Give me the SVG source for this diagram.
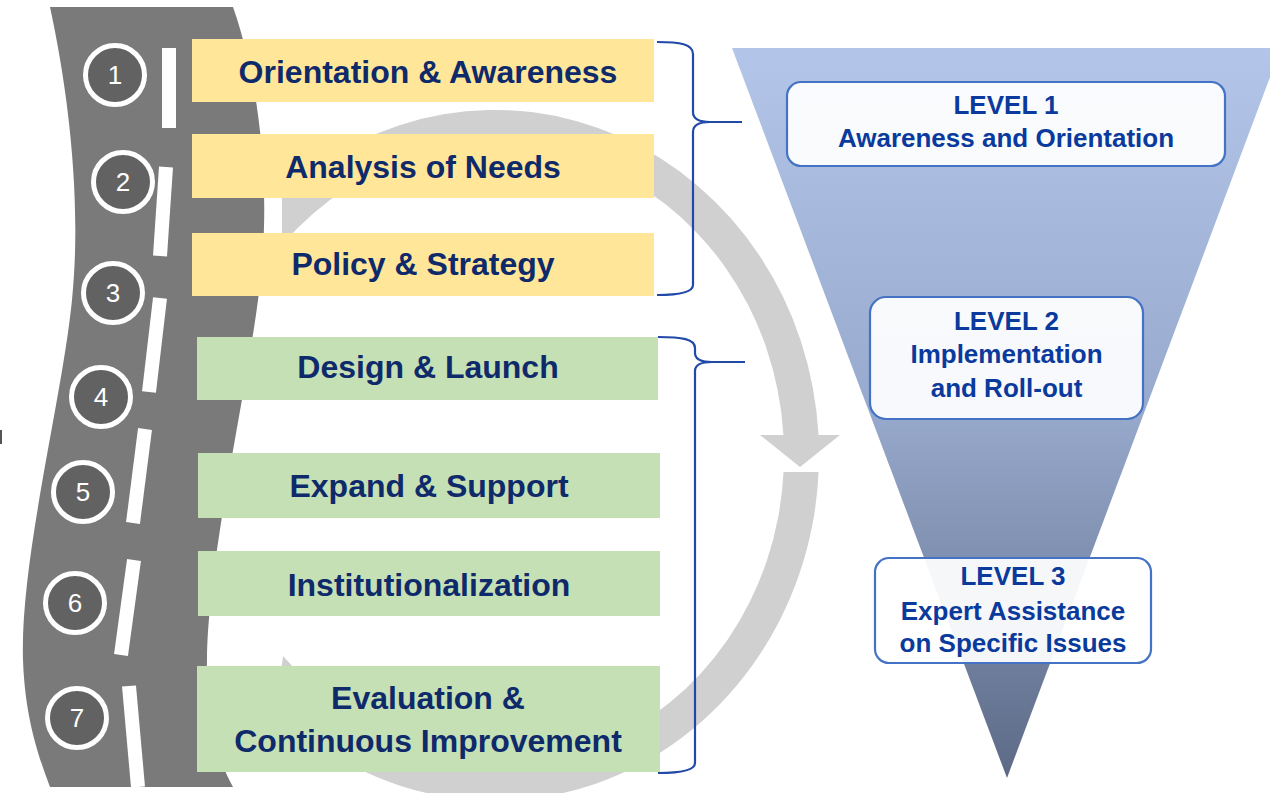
<svg xmlns="http://www.w3.org/2000/svg" width="1270" height="793" viewBox="0 0 1270 793">
<defs>
<linearGradient id="funnel" x1="0" y1="0" x2="0" y2="1">
<stop offset="0" stop-color="#B3C6EA"/>
<stop offset="0.5" stop-color="#97A9CC"/>
<stop offset="1" stop-color="#5C6A86"/>
</linearGradient>
<style>
.ring{fill:#D0D0D0}
.road{fill:#7A7A7A}
.dash{stroke:#FFFFFF;stroke-width:14;fill:none}
.num circle{fill:#626262;stroke:#FFFFFF;stroke-width:5}
.num text{fill:#FFFFFF;font-family:"Liberation Sans",Arial,sans-serif;font-size:26px;text-anchor:middle}
.yel{fill:#FFE699}
.grn{fill:#C5E0B4}
.step{fill:#0F2A6B;font-family:"Liberation Sans",Arial,sans-serif;font-weight:bold;font-size:32px;text-anchor:middle}
.brace{fill:none;stroke:#2049A8;stroke-width:2.2}
.lvl rect{fill:#FFFFFF;fill-opacity:0.93;stroke:#4472C4;stroke-width:2.2}
.lvl text{fill:#0A3A9C;font-family:"Liberation Sans",Arial,sans-serif;font-weight:bold;font-size:26px;text-anchor:middle}
</style>
</defs>

<g id="cycle-arrow">
<path class="ring" d="M 282,195 A 324 345 0 0 1 818.5,435 L 840,435 L 800,467 L 760,435 L 783.4,435 A 289 310 0 0 0 282,245 Z"/>
<path class="ring" d="M 818.6,472 A 324 345 0 0 1 241,670 L 286,670 A 289 310 0 0 0 783.5,472 Z"/>
<polygon class="ring" points="283,656 275,720 305,680"/>
</g>

<g id="road">
<path class="road" d="M 50,7 C 68,90 82,200 72,300 C 62,400 20,560 23,660 C 25,720 40,760 50,787 L 233,787 C 218,760 205,720 207,660 C 208,560 245,400 258,300 C 272,200 262,90 233,7 Z"/>
<line class="dash" x1="169" y1="48" x2="169" y2="128"/>
<line class="dash" x1="166" y1="167" x2="160" y2="256"/>
<line class="dash" x1="160" y1="298" x2="149" y2="392"/>
<line class="dash" x1="145" y1="429" x2="133" y2="523"/>
<line class="dash" x1="134" y1="560" x2="121" y2="655"/>
<line class="dash" x1="129" y1="686" x2="138" y2="787"/>
<rect x="0" y="430" width="2" height="14" fill="#555555"/>
</g>

<g id="n1" class="num"><circle cx="115" cy="75" r="29.5"/><text x="115" y="84">1</text></g>
<g id="n2" class="num"><circle cx="123" cy="182" r="29.5"/><text x="123" y="191">2</text></g>
<g id="n3" class="num"><circle cx="113" cy="293" r="29.5"/><text x="113" y="302">3</text></g>
<g id="n4" class="num"><circle cx="101" cy="397" r="29.5"/><text x="101" y="406">4</text></g>
<g id="n5" class="num"><circle cx="83" cy="492" r="29.5"/><text x="83" y="501">5</text></g>
<g id="n6" class="num"><circle cx="75" cy="603" r="29.5"/><text x="75" y="612">6</text></g>
<g id="n7" class="num"><circle cx="77" cy="718" r="29.5"/><text x="77" y="727">7</text></g>

<g id="step1"><rect class="yel" x="192" y="39" width="462" height="63"/><text class="step" x="428" y="83">Orientation &amp; Awareness</text></g>
<g id="step2"><rect class="yel" x="192" y="134" width="462" height="64"/><text class="step" x="423" y="178">Analysis of Needs</text></g>
<g id="step3"><rect class="yel" x="192" y="233" width="462" height="63"/><text class="step" x="423" y="275">Policy &amp; Strategy</text></g>
<g id="step4"><rect class="grn" x="197" y="337" width="461" height="63"/><text class="step" x="428" y="378">Design &amp; Launch</text></g>
<g id="step5"><rect class="grn" x="198" y="453" width="462" height="65"/><text class="step" x="429" y="497">Expand &amp; Support</text></g>
<g id="step6"><rect class="grn" x="198" y="551" width="462" height="65"/><text class="step" x="429" y="596">Institutionalization</text></g>
<g id="step7"><rect class="grn" x="197" y="666" width="463" height="106"/><text class="step" x="428" y="709">Evaluation &amp;</text><text class="step" x="428" y="752">Continuous Improvement</text></g>

<g id="connectors">
<path class="brace" d="M 657,42 C 680,42 693,44 693,54 L 693,112 C 693,119 699,122 710,122 L 742,122 M 710,122 C 699,122 693,125 693,132 L 693,285 C 693,292 680,295 657,295"/>
<path class="brace" d="M 658,337 C 682,337 695,339 695,348 L 695,353 C 695,359 701,362 712,362 L 745,362 M 712,362 C 701,362 695,365 695,371 L 695,763 C 695,770 682,773 658,773"/>
</g>

<g id="funnel-shape">
<polygon points="732,48 1281,48 1007,778" fill="url(#funnel)"/>
</g>

<g id="level1" class="lvl"><rect x="787" y="82" width="438" height="84" rx="14"/><text x="1006" y="114">LEVEL 1</text><text x="1006" y="147">Awareness and Orientation</text></g>
<g id="level2" class="lvl"><rect x="870" y="297" width="273" height="122" rx="16"/><text x="1006.5" y="330">LEVEL 2</text><text x="1006.5" y="363">Implementation</text><text x="1006.5" y="397">and Roll-out</text></g>
<g id="level3" class="lvl"><rect x="875" y="558" width="276" height="105" rx="14"/><text x="1013" y="585">LEVEL 3</text><text x="1013" y="620">Expert Assistance</text><text x="1013" y="652">on Specific Issues</text></g>
</svg>
